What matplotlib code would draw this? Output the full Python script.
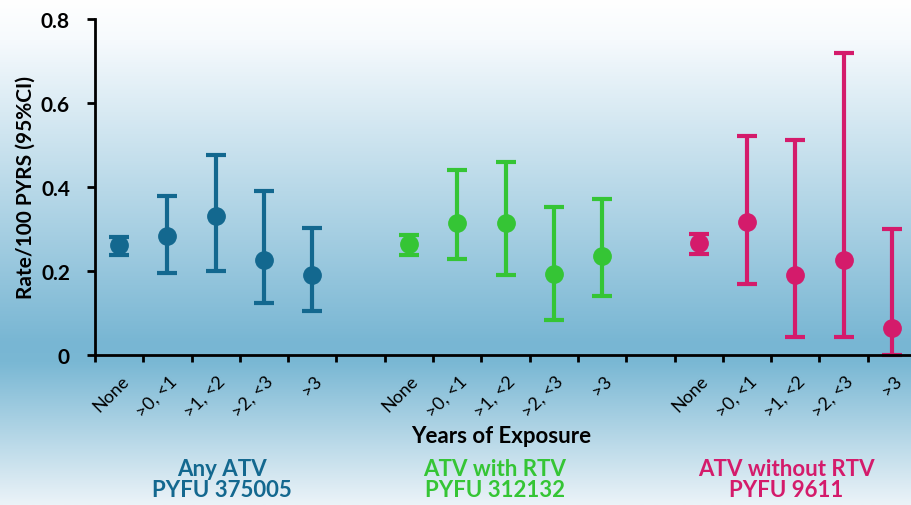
import numpy as np
import matplotlib
matplotlib.use('Agg')
import matplotlib.pyplot as plt
from matplotlib.colors import LinearSegmentedColormap
import matplotlib.transforms as mtransforms

plt.rcParams['font.family'] = ['Lato', 'DejaVu Sans']

exposure = ['None', '>0, <1', '>1, <2', '>2, <3', '>3']
groups = ['Any ATV\nPYFU 375005', 'ATV with RTV\nPYFU 312132', 'ATV without RTV\nPYFU 9611']
colors = ['#13688f', '#35c535', '#d41b6b']

rate = [
    [0.262, 0.283, 0.331, 0.226, 0.190],
    [0.264, 0.314, 0.314, 0.193, 0.236],
    [0.266, 0.316, 0.190, 0.227, 0.064],
]
lower = [
    [0.238, 0.195, 0.200, 0.124, 0.105],
    [0.238, 0.229, 0.190, 0.083, 0.140],
    [0.241, 0.170, 0.044, 0.044, 0.000],
]
upper = [
    [0.281, 0.379, 0.476, 0.390, 0.302],
    [0.286, 0.440, 0.460, 0.352, 0.371],
    [0.288, 0.521, 0.512, 0.720, 0.301],
]

fig = plt.figure(figsize=(9.11, 5.06), dpi=100)

# background gradient
bg = fig.add_axes([0, 0, 1, 1], zorder=-1)
cmap = LinearSegmentedColormap.from_list('bg', [(0.0, '#ffffff'), (0.08, '#f6fafd'),
                                                (0.68, '#78b6d3'), (0.72, '#7ab8d4'),
                                                (1.0, '#ebf3f8')])
grad = np.linspace(0, 1, 256).reshape(-1, 1)
bg.imshow(grad, aspect='auto', cmap=cmap, extent=[0, 1, 0, 1], origin='upper')
bg.axis('off')

ax = fig.add_axes([95 / 911, 150 / 506, 821 / 911, 336 / 506])
ax.patch.set_alpha(0)

group_x = [222 / 911, 495 / 911, 786 / 911]
xs_all = []
labels_all = []
for g in range(3):
    xs = np.arange(5) + g * 6
    r = np.array(rate[g])
    lo = r - np.array(lower[g])
    hi = np.array(upper[g]) - r
    ax.errorbar(xs, r, yerr=[lo, hi], fmt='o', color=colors[g], ms=12.5,
                elinewidth=3, capsize=7, capthick=3, clip_on=False)
    xs_all.extend(xs)
    labels_all.extend(exposure)
    fig.text(group_x[g], 1 - 480 / 506, groups[g], ha='center', va='center',
             color=colors[g], fontsize=16, fontweight='bold', linespacing=1.0)

ax.set_xlim(-0.5, 16.5)
ax.set_ylim(0, 0.8)
ax.set_xticks(np.arange(-0.5, 17, 1))
ax.set_xticklabels([])
ax.tick_params(axis='x', direction='out', length=5, width=2)
ax.tick_params(axis='y', direction='out', length=6, width=2, labelsize=15, pad=12)
ax.set_yticks([0, 0.2, 0.4, 0.6, 0.8])
ax.set_yticklabels(['0', '0.2', '0.4', '0.6', '0.8'], fontweight='bold')

offset = mtransforms.ScaledTranslation(5 / 72, -3 / 72, fig.dpi_scale_trans)
for x, lab in zip(xs_all, labels_all):
    ax.text(x, -0.045, lab, transform=ax.transData + offset, rotation=45,
            rotation_mode='anchor', ha='right', va='center', fontsize=13)

fig.text(0.55, 1 - 437 / 506, 'Years of Exposure', ha='center', va='center',
         fontsize=16, fontweight='bold')

for s in ['top', 'right']:
    ax.spines[s].set_visible(False)
for s in ['left', 'bottom']:
    ax.spines[s].set_linewidth(2)

ax.set_ylabel('Rate/100 PYRS (95%CI)', fontsize=15, fontweight='bold', labelpad=4)

fig.savefig('out.png', dpi=100)
